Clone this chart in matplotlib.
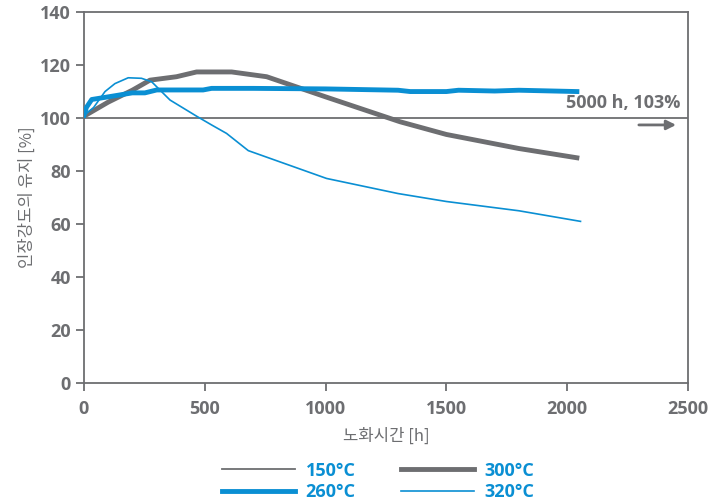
import matplotlib
matplotlib.use("Agg")
import matplotlib.pyplot as plt
from matplotlib.lines import Line2D

plt.rcParams['font.family'] = ['Open Sans', 'Noto Sans CJK KR', 'DejaVu Sans']

GRAY = "#6d6e71"
BLUE = "#0a8fd3"

# 150C: flat reference line at 100 %
t150 = [0, 2500]
v150 = [100, 100]

t260 = [0, 10, 32, 100, 200, 252, 301, 400, 493, 528, 700, 1000, 1300, 1350, 1500, 1550, 1700, 1800, 2040]
v260 = [101, 104, 107, 108, 109.5, 109.5, 110.6, 110.6, 110.6, 111.2, 111.2, 111.0, 110.5, 110.0, 110.0, 110.5, 110.2, 110.5, 110.0]

t300 = [0, 100, 200, 273, 383, 466, 611, 756, 1000, 1308, 1500, 1800, 2040]
v300 = [100.7, 106, 110.5, 114.3, 115.6, 117.4, 117.4, 115.6, 108, 98.6, 93.8, 88.5, 85.0]

t320 = [0, 40, 87, 128, 183, 238, 280, 356, 466, 528, 590, 680, 1004, 1300, 1500, 1800, 2055]
v320 = [101, 104, 110, 113, 115.2, 115, 113.7, 106.8, 100.7, 97.4, 94.2, 87.7, 77.2, 71.5, 68.5, 65.0, 61.0]

fig = plt.figure(figsize=(7.26, 5.03), dpi=100)
ax = fig.add_axes([0.1157, 0.2386, 0.832, 0.7374])

ax.plot(t150, v150, color=GRAY, lw=1.3, zorder=2)
ax.plot(t300, v300, color=GRAY, lw=3.5, zorder=3)
ax.plot(t260, v260, color=BLUE, lw=3.5, zorder=4)
ax.plot(t320, v320, color=BLUE, lw=1.2, zorder=5)

ax.set_xlim(0, 2500)
ax.set_ylim(0, 140)
ax.set_xticks(range(0, 2501, 500))
ax.set_yticks(range(0, 141, 20))
for s in ax.spines.values():
    s.set_color(GRAY)
    s.set_linewidth(1.3)
ax.tick_params(colors=GRAY, width=1.3, length=6, direction="out", labelsize=13)
ax.tick_params(axis="x", pad=6)
for lab in ax.get_xticklabels() + ax.get_yticklabels():
    lab.set_fontweight("bold")

kr = ['Noto Sans CJK KR', 'DejaVu Sans']
ax.set_xlabel("노화시간 [h]", color=GRAY, fontsize=12, labelpad=7, family=kr)
ax.set_ylabel("인장강도의 유지 [%]", color=GRAY, fontsize=12, labelpad=3, family=kr)

ax.text(2470, 102.3, "5000 h, 103%", color=GRAY, fontsize=13, fontweight="bold",
        ha="right", va="bottom")
ax.annotate("", xy=(2462, 97.4), xytext=(2285, 97.4),
            arrowprops=dict(arrowstyle="-|>", color=GRAY, lw=2, mutation_scale=14))

handles = [
    Line2D([], [], color=GRAY, lw=1.3),
    Line2D([], [], color=BLUE, lw=3.5),
    Line2D([], [], color=GRAY, lw=3.5),
    Line2D([], [], color=BLUE, lw=1.2),
]
labels = ["150°C", "260°C", "300°C", "320°C"]
leg = fig.legend(handles, labels, ncol=2, loc="upper center", bbox_to_anchor=(0.521, 0.1),
                 frameon=False, handlelength=4.05, handletextpad=0.6, columnspacing=2.5,
                 labelspacing=0.2, borderpad=0, prop={"weight": "bold", "size": 13})
for t in leg.get_texts():
    t.set_color(BLUE)

fig.savefig("out.png", dpi=100)
